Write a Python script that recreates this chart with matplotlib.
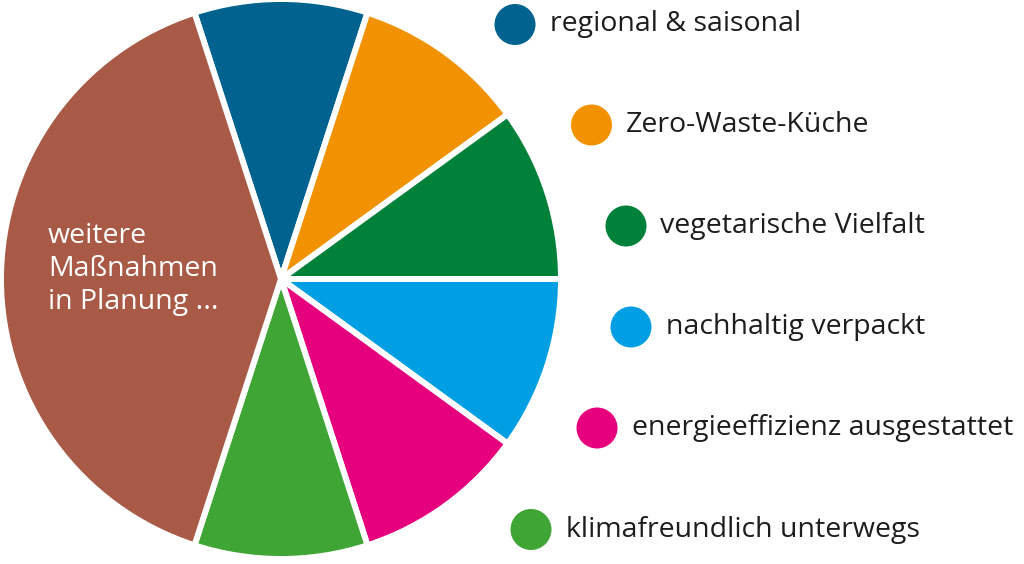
import matplotlib
matplotlib.use("Agg")
import matplotlib.pyplot as plt
from matplotlib.patches import Circle

plt.rcParams['font.family'] = ['Open Sans', 'DejaVu Sans']

labels = ["regional & saisonal", "Zero-Waste-Küche", "vegetarische Vielfalt",
          "nachhaltig verpackt", "energieeffizienz ausgestattet",
          "klimafreundlich unterwegs", "weitere Maßnahmen in Planung ..."]
values = [10, 10, 10, 10, 10, 10, 40]
colors = ["#00628f", "#f39200", "#008139", "#009fe3", "#e6007e", "#3fa535", "#a85a46"]
inner_lines = ["weitere", "Maßnahmen", "in Planung ..."]

W, H = 1024, 564
fig = plt.figure(figsize=(W / 100, H / 100), dpi=100)
ax = fig.add_axes([0, 0, 1, 1])

cx, cy, r = 281, H - 279, 280
ax.pie(values, colors=colors, startangle=108, counterclock=False,
       center=(cx, cy), radius=r,
       wedgeprops=dict(edgecolor="white", linewidth=4.3, joinstyle="miter"))
ax.set_xlim(0, W)
ax.set_ylim(0, H)
ax.set_aspect('auto')
ax.axis('off')

# inner label
for i, line in enumerate(inner_lines):
    ax.text(48, H - (243 + 33 * i), line, color="white", fontsize=20.5,
            ha="left", va="baseline")

# legend entries (positions along the pie arc)
leg_pos = [(515, 24.5), (591.5, 125), (626, 226), (631, 327), (597, 428), (531, 529.5)]
for (px, py), lab, col in zip(leg_pos, labels[:6], colors[:6]):
    ax.add_patch(Circle((px, H - py), 20.5, color=col, lw=0))
    ax.text(px + 34.5, H - (py + 7), lab, color="#1d1d1b", fontsize=20.5,
            ha="left", va="baseline")

fig.savefig("out.png", dpi=100)
